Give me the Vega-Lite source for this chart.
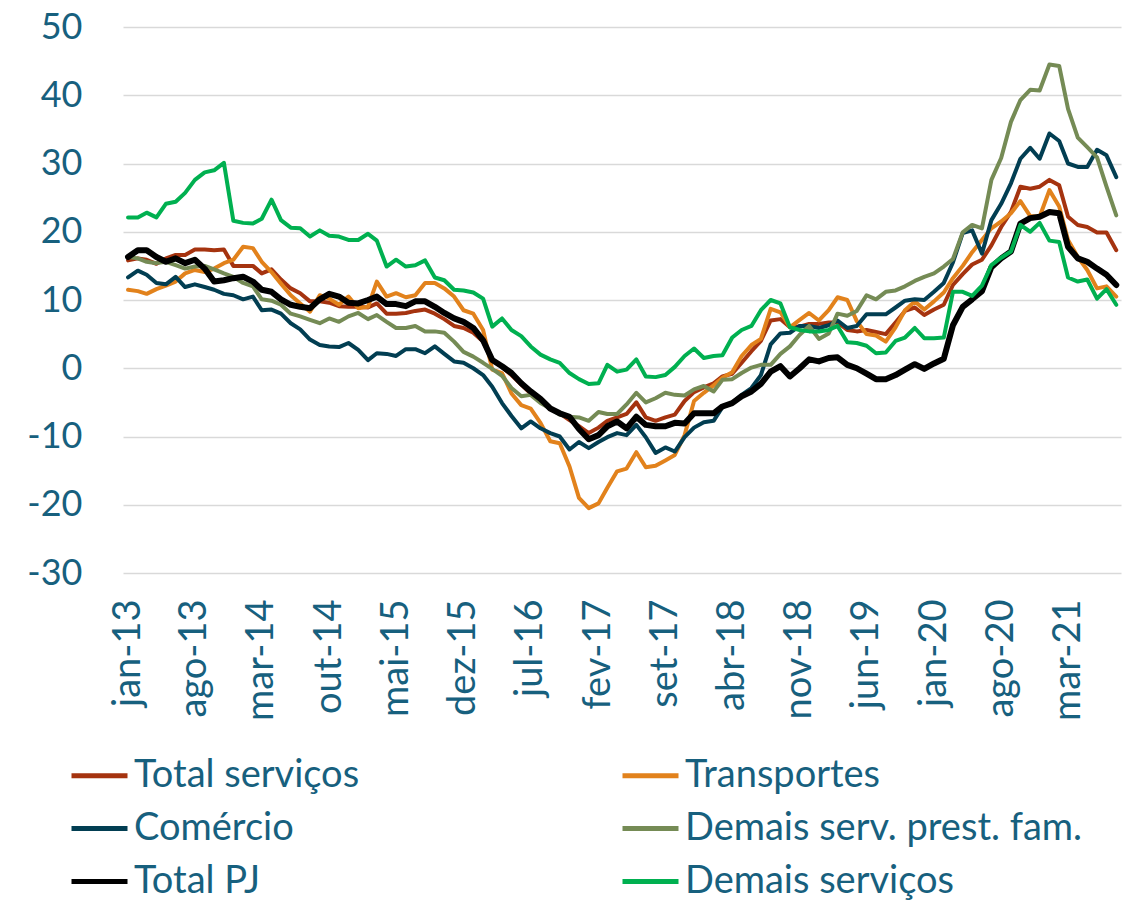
{
"$schema": "https://vega.github.io/schema/vega-lite/v6.json",
"width": 998, "height": 546,
"autosize": {"type": "none"},
"padding": {"left": 123, "top": 27, "right": 11, "bottom": 336},
"background": "white",
"config": {"view": {"stroke": null}, "font": "Lato"},
"data": {"values": [
{"mes":"2013-01","serie":"Total serviços","valor":15.8},{"mes":"2013-02","serie":"Total serviços","valor":16.1},{"mes":"2013-03","serie":"Total serviços","valor":15.9},{"mes":"2013-04","serie":"Total serviços","valor":15.3},{"mes":"2013-05","serie":"Total serviços","valor":16.1},{"mes":"2013-06","serie":"Total serviços","valor":16.6},{"mes":"2013-07","serie":"Total serviços","valor":16.6},{"mes":"2013-08","serie":"Total serviços","valor":17.4},{"mes":"2013-09","serie":"Total serviços","valor":17.4},{"mes":"2013-10","serie":"Total serviços","valor":17.3},{"mes":"2013-11","serie":"Total serviços","valor":17.4},{"mes":"2013-12","serie":"Total serviços","valor":15.0},
{"mes":"2014-01","serie":"Total serviços","valor":15.0},{"mes":"2014-02","serie":"Total serviços","valor":15.0},{"mes":"2014-03","serie":"Total serviços","valor":13.9},{"mes":"2014-04","serie":"Total serviços","valor":14.5},{"mes":"2014-05","serie":"Total serviços","valor":13.0},{"mes":"2014-06","serie":"Total serviços","valor":11.7},{"mes":"2014-07","serie":"Total serviços","valor":11.0},{"mes":"2014-08","serie":"Total serviços","valor":9.8},{"mes":"2014-09","serie":"Total serviços","valor":9.8},{"mes":"2014-10","serie":"Total serviços","valor":9.6},{"mes":"2014-11","serie":"Total serviços","valor":9.1},{"mes":"2014-12","serie":"Total serviços","valor":9.0},
{"mes":"2015-01","serie":"Total serviços","valor":9.0},{"mes":"2015-02","serie":"Total serviços","valor":8.9},{"mes":"2015-03","serie":"Total serviços","valor":9.5},{"mes":"2015-04","serie":"Total serviços","valor":8.0},{"mes":"2015-05","serie":"Total serviços","valor":8.0},{"mes":"2015-06","serie":"Total serviços","valor":8.1},{"mes":"2015-07","serie":"Total serviços","valor":8.4},{"mes":"2015-08","serie":"Total serviços","valor":8.6},{"mes":"2015-09","serie":"Total serviços","valor":8.0},{"mes":"2015-10","serie":"Total serviços","valor":7.2},{"mes":"2015-11","serie":"Total serviços","valor":6.2},{"mes":"2015-12","serie":"Total serviços","valor":5.9},
{"mes":"2016-01","serie":"Total serviços","valor":5.2},{"mes":"2016-02","serie":"Total serviços","valor":3.9},{"mes":"2016-03","serie":"Total serviços","valor":1.2},{"mes":"2016-04","serie":"Total serviços","valor":0.2},{"mes":"2016-05","serie":"Total serviços","valor":-1.0},{"mes":"2016-06","serie":"Total serviços","valor":-2.4},{"mes":"2016-07","serie":"Total serviços","valor":-3.7},{"mes":"2016-08","serie":"Total serviços","valor":-4.6},{"mes":"2016-09","serie":"Total serviços","valor":-6.0},{"mes":"2016-10","serie":"Total serviços","valor":-6.6},{"mes":"2016-11","serie":"Total serviços","valor":-7.6},{"mes":"2016-12","serie":"Total serviços","valor":-8.5},
{"mes":"2017-01","serie":"Total serviços","valor":-9.5},{"mes":"2017-02","serie":"Total serviços","valor":-8.7},{"mes":"2017-03","serie":"Total serviços","valor":-7.7},{"mes":"2017-04","serie":"Total serviços","valor":-7.2},{"mes":"2017-05","serie":"Total serviços","valor":-6.7},{"mes":"2017-06","serie":"Total serviços","valor":-5.0},{"mes":"2017-07","serie":"Total serviços","valor":-7.2},{"mes":"2017-08","serie":"Total serviços","valor":-7.7},{"mes":"2017-09","serie":"Total serviços","valor":-7.2},{"mes":"2017-10","serie":"Total serviços","valor":-6.8},{"mes":"2017-11","serie":"Total serviços","valor":-4.8},{"mes":"2017-12","serie":"Total serviços","valor":-3.5},
{"mes":"2018-01","serie":"Total serviços","valor":-2.8},{"mes":"2018-02","serie":"Total serviços","valor":-2.2},{"mes":"2018-03","serie":"Total serviços","valor":-1.2},{"mes":"2018-04","serie":"Total serviços","valor":-0.8},{"mes":"2018-05","serie":"Total serviços","valor":0.8},{"mes":"2018-06","serie":"Total serviços","valor":2.5},{"mes":"2018-07","serie":"Total serviços","valor":4.0},{"mes":"2018-08","serie":"Total serviços","valor":7.0},{"mes":"2018-09","serie":"Total serviços","valor":7.2},{"mes":"2018-10","serie":"Total serviços","valor":6.0},{"mes":"2018-11","serie":"Total serviços","valor":6.1},{"mes":"2018-12","serie":"Total serviços","valor":6.5},
{"mes":"2019-01","serie":"Total serviços","valor":6.5},{"mes":"2019-02","serie":"Total serviços","valor":6.7},{"mes":"2019-03","serie":"Total serviços","valor":6.7},{"mes":"2019-04","serie":"Total serviços","valor":5.6},{"mes":"2019-05","serie":"Total serviços","valor":5.4},{"mes":"2019-06","serie":"Total serviços","valor":5.6},{"mes":"2019-07","serie":"Total serviços","valor":5.3},{"mes":"2019-08","serie":"Total serviços","valor":5.0},{"mes":"2019-09","serie":"Total serviços","valor":6.7},{"mes":"2019-10","serie":"Total serviços","valor":8.4},{"mes":"2019-11","serie":"Total serviços","valor":8.9},{"mes":"2019-12","serie":"Total serviços","valor":7.8},
{"mes":"2020-01","serie":"Total serviços","valor":8.6},{"mes":"2020-02","serie":"Total serviços","valor":9.3},{"mes":"2020-03","serie":"Total serviços","valor":12.2},{"mes":"2020-04","serie":"Total serviços","valor":13.8},{"mes":"2020-05","serie":"Total serviços","valor":15.2},{"mes":"2020-06","serie":"Total serviços","valor":15.9},{"mes":"2020-07","serie":"Total serviços","valor":18.0},{"mes":"2020-08","serie":"Total serviços","valor":20.7},{"mes":"2020-09","serie":"Total serviços","valor":22.9},{"mes":"2020-10","serie":"Total serviços","valor":26.6},{"mes":"2020-11","serie":"Total serviços","valor":26.3},{"mes":"2020-12","serie":"Total serviços","valor":26.6},
{"mes":"2021-01","serie":"Total serviços","valor":27.6},{"mes":"2021-02","serie":"Total serviços","valor":26.8},{"mes":"2021-03","serie":"Total serviços","valor":22.2},{"mes":"2021-04","serie":"Total serviços","valor":21.0},{"mes":"2021-05","serie":"Total serviços","valor":20.7},{"mes":"2021-06","serie":"Total serviços","valor":19.9},{"mes":"2021-07","serie":"Total serviços","valor":19.9},{"mes":"2021-08","serie":"Total serviços","valor":17.3},

{"mes":"2013-01","serie":"Transportes","valor":11.5},{"mes":"2013-02","serie":"Transportes","valor":11.3},{"mes":"2013-03","serie":"Transportes","valor":10.9},{"mes":"2013-04","serie":"Transportes","valor":11.6},{"mes":"2013-05","serie":"Transportes","valor":12.1},{"mes":"2013-06","serie":"Transportes","valor":12.7},{"mes":"2013-07","serie":"Transportes","valor":13.9},{"mes":"2013-08","serie":"Transportes","valor":14.4},{"mes":"2013-09","serie":"Transportes","valor":14.1},{"mes":"2013-10","serie":"Transportes","valor":14.6},{"mes":"2013-11","serie":"Transportes","valor":15.4},{"mes":"2013-12","serie":"Transportes","valor":15.9},
{"mes":"2014-01","serie":"Transportes","valor":17.8},{"mes":"2014-02","serie":"Transportes","valor":17.6},{"mes":"2014-03","serie":"Transportes","valor":15.6},{"mes":"2014-04","serie":"Transportes","valor":14.1},{"mes":"2014-05","serie":"Transportes","valor":12.4},{"mes":"2014-06","serie":"Transportes","valor":10.7},{"mes":"2014-07","serie":"Transportes","valor":9.5},{"mes":"2014-08","serie":"Transportes","valor":8.3},{"mes":"2014-09","serie":"Transportes","valor":10.7},{"mes":"2014-10","serie":"Transportes","valor":10.2},{"mes":"2014-11","serie":"Transportes","valor":9.3},{"mes":"2014-12","serie":"Transportes","valor":10.5},
{"mes":"2015-01","serie":"Transportes","valor":8.8},{"mes":"2015-02","serie":"Transportes","valor":9.0},{"mes":"2015-03","serie":"Transportes","valor":12.7},{"mes":"2015-04","serie":"Transportes","valor":10.5},{"mes":"2015-05","serie":"Transportes","valor":11.0},{"mes":"2015-06","serie":"Transportes","valor":10.4},{"mes":"2015-07","serie":"Transportes","valor":10.7},{"mes":"2015-08","serie":"Transportes","valor":12.5},{"mes":"2015-09","serie":"Transportes","valor":12.5},{"mes":"2015-10","serie":"Transportes","valor":11.7},{"mes":"2015-11","serie":"Transportes","valor":10.5},{"mes":"2015-12","serie":"Transportes","valor":8.5},
{"mes":"2016-01","serie":"Transportes","valor":8.0},{"mes":"2016-02","serie":"Transportes","valor":5.6},{"mes":"2016-03","serie":"Transportes","valor":-0.2},{"mes":"2016-04","serie":"Transportes","valor":-0.7},{"mes":"2016-05","serie":"Transportes","valor":-3.7},{"mes":"2016-06","serie":"Transportes","valor":-5.4},{"mes":"2016-07","serie":"Transportes","valor":-5.9},{"mes":"2016-08","serie":"Transportes","valor":-8.0},{"mes":"2016-09","serie":"Transportes","valor":-10.7},{"mes":"2016-10","serie":"Transportes","valor":-11.0},{"mes":"2016-11","serie":"Transportes","valor":-14.4},{"mes":"2016-12","serie":"Transportes","valor":-19.0},
{"mes":"2017-01","serie":"Transportes","valor":-20.5},{"mes":"2017-02","serie":"Transportes","valor":-19.8},{"mes":"2017-03","serie":"Transportes","valor":-17.5},{"mes":"2017-04","serie":"Transportes","valor":-15.1},{"mes":"2017-05","serie":"Transportes","valor":-14.7},{"mes":"2017-06","serie":"Transportes","valor":-12.3},{"mes":"2017-07","serie":"Transportes","valor":-14.5},{"mes":"2017-08","serie":"Transportes","valor":-14.3},{"mes":"2017-09","serie":"Transportes","valor":-13.5},{"mes":"2017-10","serie":"Transportes","valor":-12.7},{"mes":"2017-11","serie":"Transportes","valor":-9.8},{"mes":"2017-12","serie":"Transportes","valor":-4.8},
{"mes":"2018-01","serie":"Transportes","valor":-3.6},{"mes":"2018-02","serie":"Transportes","valor":-2.5},{"mes":"2018-03","serie":"Transportes","valor":-1.4},{"mes":"2018-04","serie":"Transportes","valor":-0.6},{"mes":"2018-05","serie":"Transportes","valor":1.8},{"mes":"2018-06","serie":"Transportes","valor":3.4},{"mes":"2018-07","serie":"Transportes","valor":4.3},{"mes":"2018-08","serie":"Transportes","valor":8.7},{"mes":"2018-09","serie":"Transportes","valor":8.2},{"mes":"2018-10","serie":"Transportes","valor":6.0},{"mes":"2018-11","serie":"Transportes","valor":7.1},{"mes":"2018-12","serie":"Transportes","valor":8.1},
{"mes":"2019-01","serie":"Transportes","valor":7.0},{"mes":"2019-02","serie":"Transportes","valor":8.5},{"mes":"2019-03","serie":"Transportes","valor":10.4},{"mes":"2019-04","serie":"Transportes","valor":10.0},{"mes":"2019-05","serie":"Transportes","valor":6.9},{"mes":"2019-06","serie":"Transportes","valor":5.0},{"mes":"2019-07","serie":"Transportes","valor":4.8},{"mes":"2019-08","serie":"Transportes","valor":3.9},{"mes":"2019-09","serie":"Transportes","valor":6.0},{"mes":"2019-10","serie":"Transportes","valor":8.5},{"mes":"2019-11","serie":"Transportes","valor":9.8},{"mes":"2019-12","serie":"Transportes","valor":8.6},
{"mes":"2020-01","serie":"Transportes","valor":9.8},{"mes":"2020-02","serie":"Transportes","valor":11.1},{"mes":"2020-03","serie":"Transportes","valor":13.2},{"mes":"2020-04","serie":"Transportes","valor":15.0},{"mes":"2020-05","serie":"Transportes","valor":17.0},{"mes":"2020-06","serie":"Transportes","valor":18.8},{"mes":"2020-07","serie":"Transportes","valor":20.5},{"mes":"2020-08","serie":"Transportes","valor":21.5},{"mes":"2020-09","serie":"Transportes","valor":22.7},{"mes":"2020-10","serie":"Transportes","valor":24.5},{"mes":"2020-11","serie":"Transportes","valor":22.3},{"mes":"2020-12","serie":"Transportes","valor":22.2},
{"mes":"2021-01","serie":"Transportes","valor":26.1},{"mes":"2021-02","serie":"Transportes","valor":23.7},{"mes":"2021-03","serie":"Transportes","valor":18.8},{"mes":"2021-04","serie":"Transportes","valor":16.3},{"mes":"2021-05","serie":"Transportes","valor":14.4},{"mes":"2021-06","serie":"Transportes","valor":11.7},{"mes":"2021-07","serie":"Transportes","valor":12.0},{"mes":"2021-08","serie":"Transportes","valor":10.5},

{"mes":"2013-01","serie":"Comércio","valor":13.3},{"mes":"2013-02","serie":"Comércio","valor":14.3},{"mes":"2013-03","serie":"Comércio","valor":13.7},{"mes":"2013-04","serie":"Comércio","valor":12.5},{"mes":"2013-05","serie":"Comércio","valor":12.3},{"mes":"2013-06","serie":"Comércio","valor":13.4},{"mes":"2013-07","serie":"Comércio","valor":11.9},{"mes":"2013-08","serie":"Comércio","valor":12.3},{"mes":"2013-09","serie":"Comércio","valor":11.9},{"mes":"2013-10","serie":"Comércio","valor":11.5},{"mes":"2013-11","serie":"Comércio","valor":10.9},{"mes":"2013-12","serie":"Comércio","valor":10.7},
{"mes":"2014-01","serie":"Comércio","valor":10.1},{"mes":"2014-02","serie":"Comércio","valor":10.5},{"mes":"2014-03","serie":"Comércio","valor":8.5},{"mes":"2014-04","serie":"Comércio","valor":8.6},{"mes":"2014-05","serie":"Comércio","valor":8.0},{"mes":"2014-06","serie":"Comércio","valor":6.6},{"mes":"2014-07","serie":"Comércio","valor":5.7},{"mes":"2014-08","serie":"Comércio","valor":4.2},{"mes":"2014-09","serie":"Comércio","valor":3.4},{"mes":"2014-10","serie":"Comércio","valor":3.2},{"mes":"2014-11","serie":"Comércio","valor":3.1},{"mes":"2014-12","serie":"Comércio","valor":3.7},
{"mes":"2015-01","serie":"Comércio","valor":2.7},{"mes":"2015-02","serie":"Comércio","valor":1.2},{"mes":"2015-03","serie":"Comércio","valor":2.2},{"mes":"2015-04","serie":"Comércio","valor":2.1},{"mes":"2015-05","serie":"Comércio","valor":1.8},{"mes":"2015-06","serie":"Comércio","valor":2.8},{"mes":"2015-07","serie":"Comércio","valor":2.8},{"mes":"2015-08","serie":"Comércio","valor":2.2},{"mes":"2015-09","serie":"Comércio","valor":3.2},{"mes":"2015-10","serie":"Comércio","valor":2.1},{"mes":"2015-11","serie":"Comércio","valor":1.0},{"mes":"2015-12","serie":"Comércio","valor":0.8},
{"mes":"2016-01","serie":"Comércio","valor":0.0},{"mes":"2016-02","serie":"Comércio","valor":-1.0},{"mes":"2016-03","serie":"Comércio","valor":-2.7},{"mes":"2016-04","serie":"Comércio","valor":-5.1},{"mes":"2016-05","serie":"Comércio","valor":-7.0},{"mes":"2016-06","serie":"Comércio","valor":-8.8},{"mes":"2016-07","serie":"Comércio","valor":-7.8},{"mes":"2016-08","serie":"Comércio","valor":-8.8},{"mes":"2016-09","serie":"Comércio","valor":-9.5},{"mes":"2016-10","serie":"Comércio","valor":-10.0},{"mes":"2016-11","serie":"Comércio","valor":-11.9},{"mes":"2016-12","serie":"Comércio","valor":-10.8},
{"mes":"2017-01","serie":"Comércio","valor":-11.7},{"mes":"2017-02","serie":"Comércio","valor":-10.8},{"mes":"2017-03","serie":"Comércio","valor":-10.1},{"mes":"2017-04","serie":"Comércio","valor":-9.5},{"mes":"2017-05","serie":"Comércio","valor":-9.8},{"mes":"2017-06","serie":"Comércio","valor":-8.3},{"mes":"2017-07","serie":"Comércio","valor":-10.1},{"mes":"2017-08","serie":"Comércio","valor":-12.4},{"mes":"2017-09","serie":"Comércio","valor":-11.6},{"mes":"2017-10","serie":"Comércio","valor":-12.2},{"mes":"2017-11","serie":"Comércio","valor":-10.1},{"mes":"2017-12","serie":"Comércio","valor":-8.7},
{"mes":"2018-01","serie":"Comércio","valor":-7.9},{"mes":"2018-02","serie":"Comércio","valor":-7.7},{"mes":"2018-03","serie":"Comércio","valor":-5.7},{"mes":"2018-04","serie":"Comércio","valor":-5.1},{"mes":"2018-05","serie":"Comércio","valor":-3.9},{"mes":"2018-06","serie":"Comércio","valor":-2.9},{"mes":"2018-07","serie":"Comércio","valor":-1.0},{"mes":"2018-08","serie":"Comércio","valor":3.5},{"mes":"2018-09","serie":"Comércio","valor":5.1},{"mes":"2018-10","serie":"Comércio","valor":5.2},{"mes":"2018-11","serie":"Comércio","valor":6.2},{"mes":"2018-12","serie":"Comércio","valor":6.2},
{"mes":"2019-01","serie":"Comércio","valor":5.9},{"mes":"2019-02","serie":"Comércio","valor":6.3},{"mes":"2019-03","serie":"Comércio","valor":7.0},{"mes":"2019-04","serie":"Comércio","valor":5.9},{"mes":"2019-05","serie":"Comércio","valor":6.2},{"mes":"2019-06","serie":"Comércio","valor":7.9},{"mes":"2019-07","serie":"Comércio","valor":7.9},{"mes":"2019-08","serie":"Comércio","valor":7.9},{"mes":"2019-09","serie":"Comércio","valor":8.9},{"mes":"2019-10","serie":"Comércio","valor":9.9},{"mes":"2019-11","serie":"Comércio","valor":10.1},{"mes":"2019-12","serie":"Comércio","valor":10.0},
{"mes":"2020-01","serie":"Comércio","valor":11.2},{"mes":"2020-02","serie":"Comércio","valor":12.5},{"mes":"2020-03","serie":"Comércio","valor":15.5},{"mes":"2020-04","serie":"Comércio","valor":19.8},{"mes":"2020-05","serie":"Comércio","valor":20.2},{"mes":"2020-06","serie":"Comércio","valor":16.8},{"mes":"2020-07","serie":"Comércio","valor":21.7},{"mes":"2020-08","serie":"Comércio","valor":24.1},{"mes":"2020-09","serie":"Comércio","valor":27.1},{"mes":"2020-10","serie":"Comércio","valor":30.7},{"mes":"2020-11","serie":"Comércio","valor":32.3},{"mes":"2020-12","serie":"Comércio","valor":30.7},
{"mes":"2021-01","serie":"Comércio","valor":34.4},{"mes":"2021-02","serie":"Comércio","valor":33.3},{"mes":"2021-03","serie":"Comércio","valor":30.0},{"mes":"2021-04","serie":"Comércio","valor":29.5},{"mes":"2021-05","serie":"Comércio","valor":29.5},{"mes":"2021-06","serie":"Comércio","valor":32.0},{"mes":"2021-07","serie":"Comércio","valor":31.2},{"mes":"2021-08","serie":"Comércio","valor":28.0},

{"mes":"2013-01","serie":"Demais serv. prest. fam.","valor":16.3},{"mes":"2013-02","serie":"Demais serv. prest. fam.","valor":16.1},{"mes":"2013-03","serie":"Demais serv. prest. fam.","valor":15.6},{"mes":"2013-04","serie":"Demais serv. prest. fam.","valor":15.4},{"mes":"2013-05","serie":"Demais serv. prest. fam.","valor":15.6},{"mes":"2013-06","serie":"Demais serv. prest. fam.","valor":15.1},{"mes":"2013-07","serie":"Demais serv. prest. fam.","valor":14.6},{"mes":"2013-08","serie":"Demais serv. prest. fam.","valor":14.9},{"mes":"2013-09","serie":"Demais serv. prest. fam.","valor":15.0},{"mes":"2013-10","serie":"Demais serv. prest. fam.","valor":14.5},{"mes":"2013-11","serie":"Demais serv. prest. fam.","valor":13.9},{"mes":"2013-12","serie":"Demais serv. prest. fam.","valor":13.4},
{"mes":"2014-01","serie":"Demais serv. prest. fam.","valor":12.5},{"mes":"2014-02","serie":"Demais serv. prest. fam.","valor":12.0},{"mes":"2014-03","serie":"Demais serv. prest. fam.","valor":10.1},{"mes":"2014-04","serie":"Demais serv. prest. fam.","valor":9.9},{"mes":"2014-05","serie":"Demais serv. prest. fam.","valor":9.3},{"mes":"2014-06","serie":"Demais serv. prest. fam.","valor":8.0},{"mes":"2014-07","serie":"Demais serv. prest. fam.","valor":7.6},{"mes":"2014-08","serie":"Demais serv. prest. fam.","valor":7.1},{"mes":"2014-09","serie":"Demais serv. prest. fam.","valor":6.6},{"mes":"2014-10","serie":"Demais serv. prest. fam.","valor":7.3},{"mes":"2014-11","serie":"Demais serv. prest. fam.","valor":6.8},{"mes":"2014-12","serie":"Demais serv. prest. fam.","valor":7.6},
{"mes":"2015-01","serie":"Demais serv. prest. fam.","valor":8.1},{"mes":"2015-02","serie":"Demais serv. prest. fam.","valor":7.2},{"mes":"2015-03","serie":"Demais serv. prest. fam.","valor":7.8},{"mes":"2015-04","serie":"Demais serv. prest. fam.","valor":6.8},{"mes":"2015-05","serie":"Demais serv. prest. fam.","valor":5.9},{"mes":"2015-06","serie":"Demais serv. prest. fam.","valor":5.9},{"mes":"2015-07","serie":"Demais serv. prest. fam.","valor":6.2},{"mes":"2015-08","serie":"Demais serv. prest. fam.","valor":5.4},{"mes":"2015-09","serie":"Demais serv. prest. fam.","valor":5.4},{"mes":"2015-10","serie":"Demais serv. prest. fam.","valor":5.2},{"mes":"2015-11","serie":"Demais serv. prest. fam.","valor":3.9},{"mes":"2015-12","serie":"Demais serv. prest. fam.","valor":2.4},
{"mes":"2016-01","serie":"Demais serv. prest. fam.","valor":1.7},{"mes":"2016-02","serie":"Demais serv. prest. fam.","valor":0.8},{"mes":"2016-03","serie":"Demais serv. prest. fam.","valor":-0.1},{"mes":"2016-04","serie":"Demais serv. prest. fam.","valor":-1.1},{"mes":"2016-05","serie":"Demais serv. prest. fam.","valor":-2.9},{"mes":"2016-06","serie":"Demais serv. prest. fam.","valor":-4.1},{"mes":"2016-07","serie":"Demais serv. prest. fam.","valor":-3.9},{"mes":"2016-08","serie":"Demais serv. prest. fam.","valor":-5.1},{"mes":"2016-09","serie":"Demais serv. prest. fam.","valor":-5.9},{"mes":"2016-10","serie":"Demais serv. prest. fam.","valor":-6.8},{"mes":"2016-11","serie":"Demais serv. prest. fam.","valor":-7.1},{"mes":"2016-12","serie":"Demais serv. prest. fam.","valor":-7.2},
{"mes":"2017-01","serie":"Demais serv. prest. fam.","valor":-7.7},{"mes":"2017-02","serie":"Demais serv. prest. fam.","valor":-6.4},{"mes":"2017-03","serie":"Demais serv. prest. fam.","valor":-6.7},{"mes":"2017-04","serie":"Demais serv. prest. fam.","valor":-6.7},{"mes":"2017-05","serie":"Demais serv. prest. fam.","valor":-5.3},{"mes":"2017-06","serie":"Demais serv. prest. fam.","valor":-3.6},{"mes":"2017-07","serie":"Demais serv. prest. fam.","valor":-5.0},{"mes":"2017-08","serie":"Demais serv. prest. fam.","valor":-4.4},{"mes":"2017-09","serie":"Demais serv. prest. fam.","valor":-3.6},{"mes":"2017-10","serie":"Demais serv. prest. fam.","valor":-3.9},{"mes":"2017-11","serie":"Demais serv. prest. fam.","valor":-4.0},{"mes":"2017-12","serie":"Demais serv. prest. fam.","valor":-3.1},
{"mes":"2018-01","serie":"Demais serv. prest. fam.","valor":-2.6},{"mes":"2018-02","serie":"Demais serv. prest. fam.","valor":-3.4},{"mes":"2018-03","serie":"Demais serv. prest. fam.","valor":-1.7},{"mes":"2018-04","serie":"Demais serv. prest. fam.","valor":-1.6},{"mes":"2018-05","serie":"Demais serv. prest. fam.","valor":-0.7},{"mes":"2018-06","serie":"Demais serv. prest. fam.","valor":0.1},{"mes":"2018-07","serie":"Demais serv. prest. fam.","valor":0.5},{"mes":"2018-08","serie":"Demais serv. prest. fam.","valor":0.5},{"mes":"2018-09","serie":"Demais serv. prest. fam.","valor":2.1},{"mes":"2018-10","serie":"Demais serv. prest. fam.","valor":3.2},{"mes":"2018-11","serie":"Demais serv. prest. fam.","valor":4.9},{"mes":"2018-12","serie":"Demais serv. prest. fam.","valor":6.2},
{"mes":"2019-01","serie":"Demais serv. prest. fam.","valor":4.3},{"mes":"2019-02","serie":"Demais serv. prest. fam.","valor":5.1},{"mes":"2019-03","serie":"Demais serv. prest. fam.","valor":8.0},{"mes":"2019-04","serie":"Demais serv. prest. fam.","valor":7.7},{"mes":"2019-05","serie":"Demais serv. prest. fam.","valor":8.4},{"mes":"2019-06","serie":"Demais serv. prest. fam.","valor":10.7},{"mes":"2019-07","serie":"Demais serv. prest. fam.","valor":10.1},{"mes":"2019-08","serie":"Demais serv. prest. fam.","valor":11.2},{"mes":"2019-09","serie":"Demais serv. prest. fam.","valor":11.4},{"mes":"2019-10","serie":"Demais serv. prest. fam.","valor":12.0},{"mes":"2019-11","serie":"Demais serv. prest. fam.","valor":12.8},{"mes":"2019-12","serie":"Demais serv. prest. fam.","valor":13.4},
{"mes":"2020-01","serie":"Demais serv. prest. fam.","valor":13.9},{"mes":"2020-02","serie":"Demais serv. prest. fam.","valor":14.9},{"mes":"2020-03","serie":"Demais serv. prest. fam.","valor":16.0},{"mes":"2020-04","serie":"Demais serv. prest. fam.","valor":19.9},{"mes":"2020-05","serie":"Demais serv. prest. fam.","valor":21.0},{"mes":"2020-06","serie":"Demais serv. prest. fam.","valor":20.5},{"mes":"2020-07","serie":"Demais serv. prest. fam.","valor":27.6},{"mes":"2020-08","serie":"Demais serv. prest. fam.","valor":30.8},{"mes":"2020-09","serie":"Demais serv. prest. fam.","valor":36.1},{"mes":"2020-10","serie":"Demais serv. prest. fam.","valor":39.3},{"mes":"2020-11","serie":"Demais serv. prest. fam.","valor":40.8},{"mes":"2020-12","serie":"Demais serv. prest. fam.","valor":40.7},
{"mes":"2021-01","serie":"Demais serv. prest. fam.","valor":44.5},{"mes":"2021-02","serie":"Demais serv. prest. fam.","valor":44.3},{"mes":"2021-03","serie":"Demais serv. prest. fam.","valor":38.0},{"mes":"2021-04","serie":"Demais serv. prest. fam.","valor":33.8},{"mes":"2021-05","serie":"Demais serv. prest. fam.","valor":32.4},{"mes":"2021-06","serie":"Demais serv. prest. fam.","valor":30.9},{"mes":"2021-07","serie":"Demais serv. prest. fam.","valor":26.6},{"mes":"2021-08","serie":"Demais serv. prest. fam.","valor":22.4},

{"mes":"2013-01","serie":"Total PJ","valor":16.3},{"mes":"2013-02","serie":"Total PJ","valor":17.3},{"mes":"2013-03","serie":"Total PJ","valor":17.3},{"mes":"2013-04","serie":"Total PJ","valor":16.3},{"mes":"2013-05","serie":"Total PJ","valor":15.6},{"mes":"2013-06","serie":"Total PJ","valor":16.1},{"mes":"2013-07","serie":"Total PJ","valor":15.4},{"mes":"2013-08","serie":"Total PJ","valor":15.9},{"mes":"2013-09","serie":"Total PJ","valor":14.6},{"mes":"2013-10","serie":"Total PJ","valor":12.7},{"mes":"2013-11","serie":"Total PJ","valor":12.9},{"mes":"2013-12","serie":"Total PJ","valor":13.2},
{"mes":"2014-01","serie":"Total PJ","valor":13.4},{"mes":"2014-02","serie":"Total PJ","valor":12.7},{"mes":"2014-03","serie":"Total PJ","valor":11.5},{"mes":"2014-04","serie":"Total PJ","valor":11.2},{"mes":"2014-05","serie":"Total PJ","valor":10.1},{"mes":"2014-06","serie":"Total PJ","valor":9.3},{"mes":"2014-07","serie":"Total PJ","valor":9.0},{"mes":"2014-08","serie":"Total PJ","valor":8.8},{"mes":"2014-09","serie":"Total PJ","valor":10.1},{"mes":"2014-10","serie":"Total PJ","valor":10.9},{"mes":"2014-11","serie":"Total PJ","valor":10.5},{"mes":"2014-12","serie":"Total PJ","valor":9.6},
{"mes":"2015-01","serie":"Total PJ","valor":9.5},{"mes":"2015-02","serie":"Total PJ","valor":10.0},{"mes":"2015-03","serie":"Total PJ","valor":10.5},{"mes":"2015-04","serie":"Total PJ","valor":9.4},{"mes":"2015-05","serie":"Total PJ","valor":9.4},{"mes":"2015-06","serie":"Total PJ","valor":9.1},{"mes":"2015-07","serie":"Total PJ","valor":9.8},{"mes":"2015-08","serie":"Total PJ","valor":9.8},{"mes":"2015-09","serie":"Total PJ","valor":9.0},{"mes":"2015-10","serie":"Total PJ","valor":8.1},{"mes":"2015-11","serie":"Total PJ","valor":7.3},{"mes":"2015-12","serie":"Total PJ","valor":6.8},
{"mes":"2016-01","serie":"Total PJ","valor":5.9},{"mes":"2016-02","serie":"Total PJ","valor":4.1},{"mes":"2016-03","serie":"Total PJ","valor":1.2},{"mes":"2016-04","serie":"Total PJ","valor":0.3},{"mes":"2016-05","serie":"Total PJ","valor":-0.7},{"mes":"2016-06","serie":"Total PJ","valor":-2.2},{"mes":"2016-07","serie":"Total PJ","valor":-3.4},{"mes":"2016-08","serie":"Total PJ","valor":-4.5},{"mes":"2016-09","serie":"Total PJ","valor":-5.9},{"mes":"2016-10","serie":"Total PJ","valor":-6.6},{"mes":"2016-11","serie":"Total PJ","valor":-7.1},{"mes":"2016-12","serie":"Total PJ","valor":-8.9},
{"mes":"2017-01","serie":"Total PJ","valor":-10.4},{"mes":"2017-02","serie":"Total PJ","valor":-9.8},{"mes":"2017-03","serie":"Total PJ","valor":-8.5},{"mes":"2017-04","serie":"Total PJ","valor":-7.8},{"mes":"2017-05","serie":"Total PJ","valor":-8.8},{"mes":"2017-06","serie":"Total PJ","valor":-7.1},{"mes":"2017-07","serie":"Total PJ","valor":-8.3},{"mes":"2017-08","serie":"Total PJ","valor":-8.5},{"mes":"2017-09","serie":"Total PJ","valor":-8.5},{"mes":"2017-10","serie":"Total PJ","valor":-8.0},{"mes":"2017-11","serie":"Total PJ","valor":-8.1},{"mes":"2017-12","serie":"Total PJ","valor":-6.6},
{"mes":"2018-01","serie":"Total PJ","valor":-6.6},{"mes":"2018-02","serie":"Total PJ","valor":-6.6},{"mes":"2018-03","serie":"Total PJ","valor":-5.6},{"mes":"2018-04","serie":"Total PJ","valor":-5.1},{"mes":"2018-05","serie":"Total PJ","valor":-4.1},{"mes":"2018-06","serie":"Total PJ","valor":-3.4},{"mes":"2018-07","serie":"Total PJ","valor":-2.3},{"mes":"2018-08","serie":"Total PJ","valor":-0.5},{"mes":"2018-09","serie":"Total PJ","valor":0.3},{"mes":"2018-10","serie":"Total PJ","valor":-1.2},{"mes":"2018-11","serie":"Total PJ","valor":0.0},{"mes":"2018-12","serie":"Total PJ","valor":1.3},
{"mes":"2019-01","serie":"Total PJ","valor":1.0},{"mes":"2019-02","serie":"Total PJ","valor":1.5},{"mes":"2019-03","serie":"Total PJ","valor":1.6},{"mes":"2019-04","serie":"Total PJ","valor":0.5},{"mes":"2019-05","serie":"Total PJ","valor":0.0},{"mes":"2019-06","serie":"Total PJ","valor":-0.8},{"mes":"2019-07","serie":"Total PJ","valor":-1.6},{"mes":"2019-08","serie":"Total PJ","valor":-1.6},{"mes":"2019-09","serie":"Total PJ","valor":-1.0},{"mes":"2019-10","serie":"Total PJ","valor":-0.2},{"mes":"2019-11","serie":"Total PJ","valor":0.6},{"mes":"2019-12","serie":"Total PJ","valor":-0.1},
{"mes":"2020-01","serie":"Total PJ","valor":0.7},{"mes":"2020-02","serie":"Total PJ","valor":1.4},{"mes":"2020-03","serie":"Total PJ","valor":6.3},{"mes":"2020-04","serie":"Total PJ","valor":9.0},{"mes":"2020-05","serie":"Total PJ","valor":10.1},{"mes":"2020-06","serie":"Total PJ","valor":11.3},{"mes":"2020-07","serie":"Total PJ","valor":14.8},{"mes":"2020-08","serie":"Total PJ","valor":16.1},{"mes":"2020-09","serie":"Total PJ","valor":17.1},{"mes":"2020-10","serie":"Total PJ","valor":21.2},{"mes":"2020-11","serie":"Total PJ","valor":22.0},{"mes":"2020-12","serie":"Total PJ","valor":22.2},
{"mes":"2021-01","serie":"Total PJ","valor":22.9},{"mes":"2021-02","serie":"Total PJ","valor":22.7},{"mes":"2021-03","serie":"Total PJ","valor":17.8},{"mes":"2021-04","serie":"Total PJ","valor":16.1},{"mes":"2021-05","serie":"Total PJ","valor":15.6},{"mes":"2021-06","serie":"Total PJ","valor":14.6},{"mes":"2021-07","serie":"Total PJ","valor":13.7},{"mes":"2021-08","serie":"Total PJ","valor":12.2},

{"mes":"2013-01","serie":"Demais serviços","valor":22.1},{"mes":"2013-02","serie":"Demais serviços","valor":22.1},{"mes":"2013-03","serie":"Demais serviços","valor":22.8},{"mes":"2013-04","serie":"Demais serviços","valor":22.1},{"mes":"2013-05","serie":"Demais serviços","valor":24.1},{"mes":"2013-06","serie":"Demais serviços","valor":24.4},{"mes":"2013-07","serie":"Demais serviços","valor":25.7},{"mes":"2013-08","serie":"Demais serviços","valor":27.6},{"mes":"2013-09","serie":"Demais serviços","valor":28.7},{"mes":"2013-10","serie":"Demais serviços","valor":29.0},{"mes":"2013-11","serie":"Demais serviços","valor":30.1},{"mes":"2013-12","serie":"Demais serviços","valor":21.6},
{"mes":"2014-01","serie":"Demais serviços","valor":21.3},{"mes":"2014-02","serie":"Demais serviços","valor":21.2},{"mes":"2014-03","serie":"Demais serviços","valor":21.9},{"mes":"2014-04","serie":"Demais serviços","valor":24.7},{"mes":"2014-05","serie":"Demais serviços","valor":21.7},{"mes":"2014-06","serie":"Demais serviços","valor":20.6},{"mes":"2014-07","serie":"Demais serviços","valor":20.5},{"mes":"2014-08","serie":"Demais serviços","valor":19.3},{"mes":"2014-09","serie":"Demais serviços","valor":20.2},{"mes":"2014-10","serie":"Demais serviços","valor":19.4},{"mes":"2014-11","serie":"Demais serviços","valor":19.3},{"mes":"2014-12","serie":"Demais serviços","valor":18.8},
{"mes":"2015-01","serie":"Demais serviços","valor":18.8},{"mes":"2015-02","serie":"Demais serviços","valor":19.7},{"mes":"2015-03","serie":"Demais serviços","valor":18.7},{"mes":"2015-04","serie":"Demais serviços","valor":14.9},{"mes":"2015-05","serie":"Demais serviços","valor":15.9},{"mes":"2015-06","serie":"Demais serviços","valor":14.9},{"mes":"2015-07","serie":"Demais serviços","valor":15.1},{"mes":"2015-08","serie":"Demais serviços","valor":15.8},{"mes":"2015-09","serie":"Demais serviços","valor":13.3},{"mes":"2015-10","serie":"Demais serviços","valor":12.9},{"mes":"2015-11","serie":"Demais serviços","valor":11.5},{"mes":"2015-12","serie":"Demais serviços","valor":11.4},
{"mes":"2016-01","serie":"Demais serviços","valor":11.1},{"mes":"2016-02","serie":"Demais serviços","valor":10.2},{"mes":"2016-03","serie":"Demais serviços","valor":6.1},{"mes":"2016-04","serie":"Demais serviços","valor":7.3},{"mes":"2016-05","serie":"Demais serviços","valor":5.6},{"mes":"2016-06","serie":"Demais serviços","valor":4.7},{"mes":"2016-07","serie":"Demais serviços","valor":3.2},{"mes":"2016-08","serie":"Demais serviços","valor":2.0},{"mes":"2016-09","serie":"Demais serviços","valor":1.3},{"mes":"2016-10","serie":"Demais serviços","valor":0.8},{"mes":"2016-11","serie":"Demais serviços","valor":-0.7},{"mes":"2016-12","serie":"Demais serviços","valor":-1.6},
{"mes":"2017-01","serie":"Demais serviços","valor":-2.3},{"mes":"2017-02","serie":"Demais serviços","valor":-2.2},{"mes":"2017-03","serie":"Demais serviços","valor":0.5},{"mes":"2017-04","serie":"Demais serviços","valor":-0.5},{"mes":"2017-05","serie":"Demais serviços","valor":-0.2},{"mes":"2017-06","serie":"Demais serviços","valor":1.3},{"mes":"2017-07","serie":"Demais serviços","valor":-1.2},{"mes":"2017-08","serie":"Demais serviços","valor":-1.3},{"mes":"2017-09","serie":"Demais serviços","valor":-1.0},{"mes":"2017-10","serie":"Demais serviços","valor":0.2},{"mes":"2017-11","serie":"Demais serviços","valor":1.8},{"mes":"2017-12","serie":"Demais serviços","valor":2.9},
{"mes":"2018-01","serie":"Demais serviços","valor":1.5},{"mes":"2018-02","serie":"Demais serviços","valor":1.8},{"mes":"2018-03","serie":"Demais serviços","valor":1.9},{"mes":"2018-04","serie":"Demais serviços","valor":4.5},{"mes":"2018-05","serie":"Demais serviços","valor":5.6},{"mes":"2018-06","serie":"Demais serviços","valor":6.2},{"mes":"2018-07","serie":"Demais serviços","valor":8.5},{"mes":"2018-08","serie":"Demais serviços","valor":10.0},{"mes":"2018-09","serie":"Demais serviços","valor":9.5},{"mes":"2018-10","serie":"Demais serviços","valor":6.0},{"mes":"2018-11","serie":"Demais serviços","valor":5.6},{"mes":"2018-12","serie":"Demais serviços","valor":5.4},
{"mes":"2019-01","serie":"Demais serviços","valor":5.4},{"mes":"2019-02","serie":"Demais serviços","valor":5.6},{"mes":"2019-03","serie":"Demais serviços","valor":6.2},{"mes":"2019-04","serie":"Demais serviços","valor":3.8},{"mes":"2019-05","serie":"Demais serviços","valor":3.7},{"mes":"2019-06","serie":"Demais serviços","valor":3.3},{"mes":"2019-07","serie":"Demais serviços","valor":2.2},{"mes":"2019-08","serie":"Demais serviços","valor":2.3},{"mes":"2019-09","serie":"Demais serviços","valor":4.0},{"mes":"2019-10","serie":"Demais serviços","valor":4.5},{"mes":"2019-11","serie":"Demais serviços","valor":5.9},{"mes":"2019-12","serie":"Demais serviços","valor":4.4},
{"mes":"2020-01","serie":"Demais serviços","valor":4.4},{"mes":"2020-02","serie":"Demais serviços","valor":4.5},{"mes":"2020-03","serie":"Demais serviços","valor":11.2},{"mes":"2020-04","serie":"Demais serviços","valor":11.2},{"mes":"2020-05","serie":"Demais serviços","valor":10.6},{"mes":"2020-06","serie":"Demais serviços","valor":12.1},{"mes":"2020-07","serie":"Demais serviços","valor":15.1},{"mes":"2020-08","serie":"Demais serviços","valor":16.2},{"mes":"2020-09","serie":"Demais serviços","valor":17.1},{"mes":"2020-10","serie":"Demais serviços","valor":21.0},{"mes":"2020-11","serie":"Demais serviços","valor":20.0},{"mes":"2020-12","serie":"Demais serviços","valor":21.3},
{"mes":"2021-01","serie":"Demais serviços","valor":18.7},{"mes":"2021-02","serie":"Demais serviços","valor":18.5},{"mes":"2021-03","serie":"Demais serviços","valor":13.3},{"mes":"2021-04","serie":"Demais serviços","valor":12.7},{"mes":"2021-05","serie":"Demais serviços","valor":13.0},{"mes":"2021-06","serie":"Demais serviços","valor":10.2},{"mes":"2021-07","serie":"Demais serviços","valor":11.6},{"mes":"2021-08","serie":"Demais serviços","valor":9.3}
]},
"mark": {"type": "line", "strokeJoin": "round", "strokeCap": "round"},
"encoding": {
  "x": {"field": "mes", "type": "temporal",
    "scale": {"type": "utc", "domain": [{"year": 2012, "month": 12, "date": 16, "utc": true}, {"year": 2021, "month": 8, "date": 16, "utc": true}], "nice": false},
    "axis": {"title": null, "grid": false, "domain": false, "ticks": false,
      "values": [{"year": 2013, "month": 1, "date": 1, "utc": true}, {"year": 2013, "month": 8, "date": 1, "utc": true}, {"year": 2014, "month": 3, "date": 1, "utc": true}, {"year": 2014, "month": 10, "date": 1, "utc": true}, {"year": 2015, "month": 5, "date": 1, "utc": true}, {"year": 2015, "month": 12, "date": 1, "utc": true}, {"year": 2016, "month": 7, "date": 1, "utc": true}, {"year": 2017, "month": 2, "date": 1, "utc": true}, {"year": 2017, "month": 9, "date": 1, "utc": true}, {"year": 2018, "month": 4, "date": 1, "utc": true}, {"year": 2018, "month": 11, "date": 1, "utc": true}, {"year": 2019, "month": 6, "date": 1, "utc": true}, {"year": 2020, "month": 1, "date": 1, "utc": true}, {"year": 2020, "month": 8, "date": 1, "utc": true}, {"year": 2021, "month": 3, "date": 1, "utc": true}],
      "labelExpr": "['jan','fev','mar','abr','mai','jun','jul','ago','set','out','nov','dez'][utcmonth(datum.value)] + '-' + utcFormat(datum.value, '%y')",
      "labelAngle": -90, "labelAlign": "right", "labelBaseline": "middle", "labelPadding": 26,
      "labelFontSize": 38, "labelColor": "#17607E", "labelFont": "Lato", "labelOverlap": false, "labelFlush": false}},
  "y": {"field": "valor", "type": "quantitative",
    "scale": {"domain": [-30, 50], "nice": false, "zero": false},
    "axis": {"title": null, "domain": false, "ticks": false, "values": [-30, -20, -10, 0, 10, 20, 30, 40, 50],
      "labelExpr": "datum.value < 0 ? '-' + abs(datum.value) : '' + datum.value",
      "labelFontSize": 36, "labelColor": "#17607E", "labelFont": "Lato", "labelPadding": 41,
      "gridColor": "#D9D9D9", "gridWidth": 1.5}},
  "color": {"field": "serie", "type": "nominal",
    "scale": {"domain": ["Total serviços", "Transportes", "Comércio", "Demais serv. prest. fam.", "Total PJ", "Demais serviços"],
      "range": ["#A5330F", "#E2821C", "#023E52", "#758B55", "#000000", "#00B050"]},
    "legend": {"title": null, "orient": "none", "direction": "horizontal", "legendX": -54, "legendY": 718, "columns": 2, "columnPadding": 252, "rowPadding": 3,
      "symbolType": "stroke", "symbolSize": 3136, "symbolStrokeWidth": 5, "labelOffset": 4,
      "labelFontSize": 38, "labelColor": "#17607E", "labelFont": "Lato", "labelLimit": 0}},
  "strokeWidth": {"condition": {"test": "datum.serie === 'Total PJ'", "value": 6}, "value": 4}
}
}
